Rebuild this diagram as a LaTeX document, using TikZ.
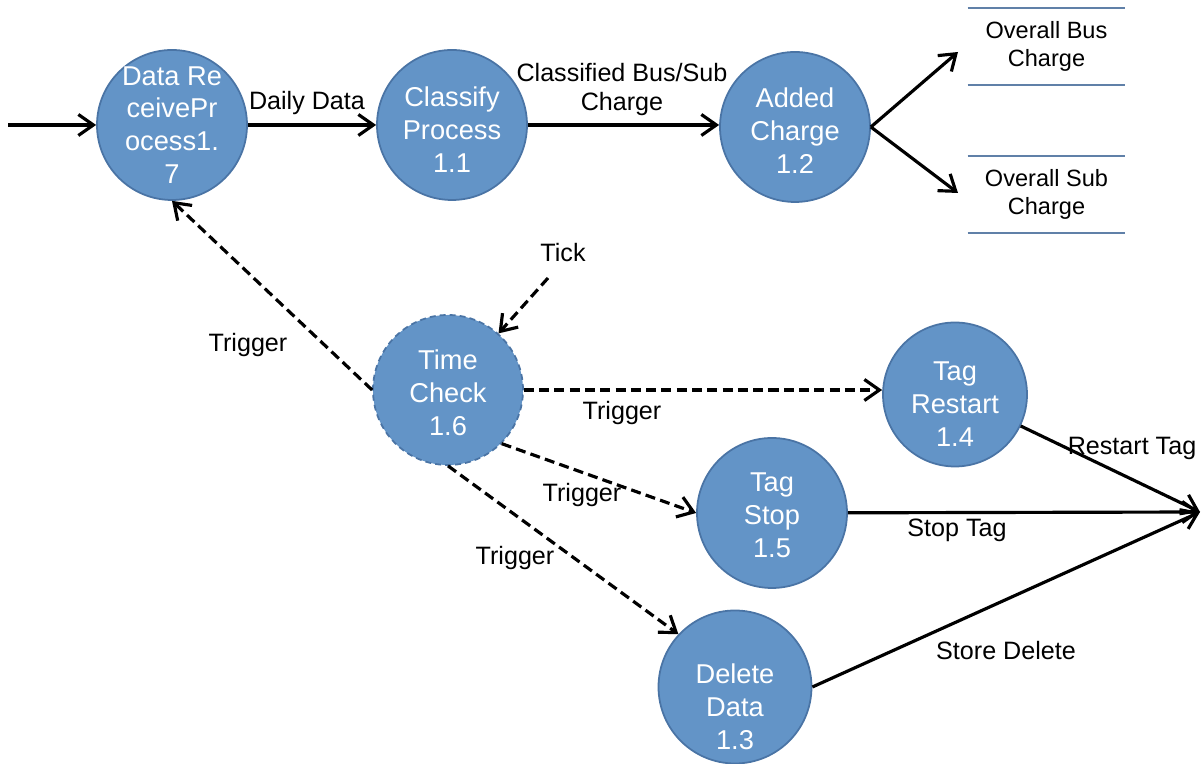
\documentclass[tikz,border=0pt]{standalone}
\usepackage{fontspec}
\setmainfont{Liberation Sans}
\usetikzlibrary{arrows.meta}
\definecolor{dfd_fill}{RGB}{99,148,199}
\definecolor{dfd_edge}{RGB}{74,116,165}
\definecolor{dfd_store}{RGB}{96,128,168}
\tikzstyle{proc}=[circle,fill=dfd_fill,draw=dfd_edge,line width=1pt,
  inner sep=0pt,minimum size=3cm]
\tikzstyle{ptext}=[text=white,align=center,inner sep=0pt,
  font=\fontsize{15.5}{18.7}\selectfont]
\tikzstyle{store}=[align=center,minimum width=3.14cm,minimum height=1.54cm,
  font=\fontsize{13.4}{15.8}\selectfont]
\tikzstyle{lbl}=[align=center,font=\fontsize{14.3}{16.5}\selectfont]
\tikzstyle{flow}=[line width=1.8pt,-{Straight Barb[length=3mm,width=4.2mm,line width=1.8pt]}]
\tikzstyle{ctrl}=[flow,dash pattern=on 5.7pt off 3pt]

\begin{document}
\begin{tikzpicture}
    \useasboundingbox (0,0) rectangle (24.06,15.28);
    % processes
    \node [style=proc] (p17) at (3.44,12.78) {};
    \node [style=proc] (p11) at (9.04,12.78) {};
    \node [style=proc] (p12) at (15.9,12.74) {};
    \node [style=proc,dash pattern=on 3.4pt off 2.3pt] (p16) at (8.96,7.48) {};
    \node [style=proc,minimum size=2.88cm] (p14) at (19.1,7.39) {};
    \node [style=proc] (p15) at (15.44,5.02) {};
    \node [style=proc,minimum size=3.06cm] (p13) at (14.7,1.54) {};
    \node [style=ptext] (t17) at (p17.center) {Data Re\\ceivePr\\ocess1.\\7};
    \node [style=ptext] (t11) at ([yshift=-0.1cm]p11.center) {Classify\\Process\\1.1};
    \node [style=ptext] (t12) at ([yshift=-0.08cm]p12.center) {Added\\Charge\\1.2};
    \node [style=ptext] (t16) at ([yshift=-0.06cm]p16.center) {Time\\Check\\1.6};
    \node [style=ptext] (t14) at ([yshift=-0.2cm]p14.center) {Tag\\Restart\\1.4};
    \node [style=ptext] (t15) at ([yshift=-0.04cm]p15.center) {Tag\\Stop\\1.5};
    \node [style=ptext] (t13) at ([yshift=-0.4cm]p13.center) {Delete\\Data\\1.3};
    % data stores
    \node [style=store] (bus) at (20.93,14.35) {Overall Bus\\Charge};
    \node [style=store] (sub) at (20.93,11.39) {Overall Sub\\Charge};
    \draw [dfd_store,line width=1pt] (bus.north west) to (bus.north east);
    \draw [dfd_store,line width=1pt] (bus.south west) to (bus.south east);
    \draw [dfd_store,line width=1pt] (sub.north west) to (sub.north east);
    \draw [dfd_store,line width=1pt] (sub.south west) to (sub.south east);
    % free ends
    \coordinate (in) at (0.16,12.78);
    \coordinate (tick) at (10.96,9.72);
    \coordinate (sink) at (24.0,5.04);
    \coordinate (busin) at (19.16,14.24);
    \coordinate (subin) at (19.16,11.42);
    % flows
    \draw [style=flow] (in) to (p17);
    \draw [style=flow] (p17) to (p11);
    \draw [style=flow] (p11.east) to (p11.east -| p12.west);
    \draw [style=flow] (p12.east) to (busin);
    \draw [style=flow] (p12.east) to (subin);
    \draw [style=flow] (p14) to (sink);
    \draw [style=flow] (p15) to (sink);
    \draw [style=flow] (p13.east) to (sink);
    \draw [style=ctrl] (tick) to (p16);
    \draw [style=ctrl] (p16.west) to (p17.south);
    \draw [style=ctrl] (p16.east) to (p14.west |- p16.east);
    \draw [style=ctrl] (p16.south east) to (p15.west);
    \draw [style=ctrl] (p16.south) to (p13.137);
    % labels
    \node [style=lbl] (ldaily) at (6.14,13.22) {Daily Data};
    \node [style=lbl] (lclass) at (12.44,13.48) {Classified Bus/Sub\\Charge};
    \node [style=lbl] (ltick) at (11.26,10.22) {Tick};
    \node [style=lbl] (ltrig17) at (4.96,8.38) {Trigger};
    \node [style=lbl] (ltrig14) at (12.44,7.02) {Trigger};
    \node [style=lbl] (ltrig15) at (11.64,5.38) {Trigger};
    \node [style=lbl] (ltrig13) at (10.3,4.12) {Trigger};
    \node [style=lbl] (lrestart) at (22.64,6.32) {Restart Tag};
    \node [style=lbl] (lstop) at (19.14,4.68) {Stop Tag};
    \node [style=lbl] (lstore) at (20.12,2.26) {Store Delete};
  \end{tikzpicture}
\end{document}
